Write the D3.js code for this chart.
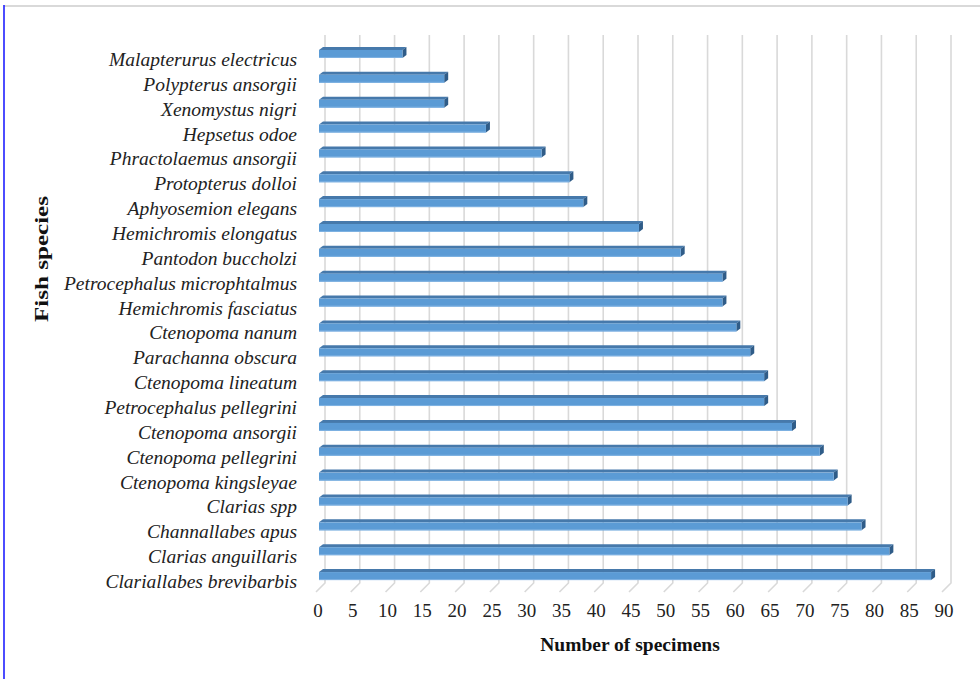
<!DOCTYPE html>
<html>
<head>
<meta charset="utf-8">
<script src="https://cdn.jsdelivr.net/npm/d3@7"></script>
<style>
  html, body { margin: 0; padding: 0; background: #ffffff; }
  svg { display: block; }
</style>
</head>
<body>
<svg id="chart" width="980" height="679"></svg>
<script>
// ---- data ----
const species = [
  "Malapterurus electricus",
  "Polypterus ansorgii",
  "Xenomystus nigri",
  "Hepsetus odoe",
  "Phractolaemus ansorgii",
  "Protopterus dolloi",
  "Aphyosemion elegans",
  "Hemichromis elongatus",
  "Pantodon buccholzi",
  "Petrocephalus microphtalmus",
  "Hemichromis fasciatus",
  "Ctenopoma nanum",
  "Parachanna obscura",
  "Ctenopoma lineatum",
  "Petrocephalus pellegrini",
  "Ctenopoma ansorgii",
  "Ctenopoma pellegrini",
  "Ctenopoma kingsleyae",
  "Clarias spp",
  "Channallabes apus",
  "Clarias anguillaris",
  "Clariallabes brevibarbis"
];
const specimens = [12, 18, 18, 24, 32, 36, 38, 46, 52, 58, 58, 60, 62, 64, 64, 68, 72, 74, 76, 78, 82, 88];
const xTicks = [0, 5, 10, 15, 20, 25, 30, 35, 40, 45, 50, 55, 60, 65, 70, 75, 80, 85, 90];
const xTitle = "Number of specimens";
const yTitle = "Fish species";

// ---- drawing ----
const svg = d3.select("#chart");
const W = 980, H = 679;
const serif = "'Liberation Serif', 'Times New Roman', serif";

// frame
svg.append("line").attr("x1", 4).attr("x2", W).attr("y1", 6).attr("y2", 6)
  .attr("stroke", "#d9d9d9").attr("stroke-width", 2);
svg.append("line").attr("x1", 4).attr("x2", 4).attr("y1", 5).attr("y2", H)
  .attr("stroke", "#2020ff").attr("stroke-width", 1.6);

// back wall scale
const x = d3.scaleLinear().domain([0, 90]).range([325, 951]);
const y = d3.scaleBand().domain(species).range([40, 587]).padding(0);

const gridTop = 35, gridBottom = 583, floorDx = -9, floorDy = 9;

// gridlines (back wall + floor)
const grid = svg.append("g");
xTicks.forEach(t => {
  grid.append("path")
    .attr("d", `M${x(t)},${gridTop} L${x(t)},${gridBottom} L${x(t) + floorDx},${gridBottom + floorDy}`)
    .attr("fill", "none").attr("stroke", "#d9d9d9").attr("stroke-width", 1.6);
});

// tick labels
svg.append("g").selectAll("text").data(xTicks).join("text")
  .attr("x", d => x(d) - 7)
  .attr("y", 617)
  .attr("text-anchor", "middle")
  .attr("font-family", serif)
  .attr("font-size", 19)
  .attr("fill", "#222")
  .text(d => d);

// bars (3D-like)
const frontDx = -6;
const depthX = 4, depthY = -3;
const bars = svg.append("g");
species.forEach((s, i) => {
  const v = specimens[i];
  const yc = y(s) + y.bandwidth() / 2;
  const x0 = x(0) + frontDx;
  const x1 = x(v) + frontDx;
  const fy0 = yc - 2.5, fy1 = yc + 5.5;
  // top face
  bars.append("path")
    .attr("d", `M${x0},${fy0} L${x1},${fy0} L${x1 + depthX},${fy0 + depthY} L${x0 + depthX},${fy0 + depthY} Z`)
    .attr("fill", "#4679ab");
  // right face
  bars.append("path")
    .attr("d", `M${x1},${fy0} L${x1 + depthX},${fy0 + depthY} L${x1 + depthX},${fy1 + depthY} L${x1},${fy1} Z`)
    .attr("fill", "#2f5c88");
  // front face
  bars.append("rect")
    .attr("x", x0).attr("y", fy0)
    .attr("width", x1 - x0).attr("height", fy1 - fy0)
    .attr("fill", "#5b9bd5");
  bars.append("line")
    .attr("x1", x0).attr("x2", x1).attr("y1", fy1 - 0.5).attr("y2", fy1 - 0.5)
    .attr("stroke", "#7fb2e2").attr("stroke-width", 1);
});

// category labels
svg.append("g").selectAll("text").data(species).join("text")
  .attr("x", 297)
  .attr("y", d => y(d) + y.bandwidth() / 2 + 13.5)
  .attr("text-anchor", "end")
  .attr("font-family", serif)
  .attr("font-style", "italic")
  .attr("font-size", 19.5)
  .attr("fill", "#222")
  .text(d => d);

// axis titles
svg.append("text")
  .attr("x", 630).attr("y", 651)
  .attr("text-anchor", "middle")
  .attr("font-family", serif)
  .attr("font-weight", "bold")
  .attr("font-size", 19.5)
  .attr("fill", "#111")
  .text(xTitle);

svg.append("text")
  .attr("transform", "translate(48,259) rotate(-90)")
  .attr("text-anchor", "middle")
  .attr("font-family", serif)
  .attr("font-weight", "bold")
  .attr("font-size", 19.5)
  .attr("textLength", 126)
  .attr("lengthAdjust", "spacingAndGlyphs")
  .attr("fill", "#111")
  .text(yTitle);
</script>
</body>
</html>
